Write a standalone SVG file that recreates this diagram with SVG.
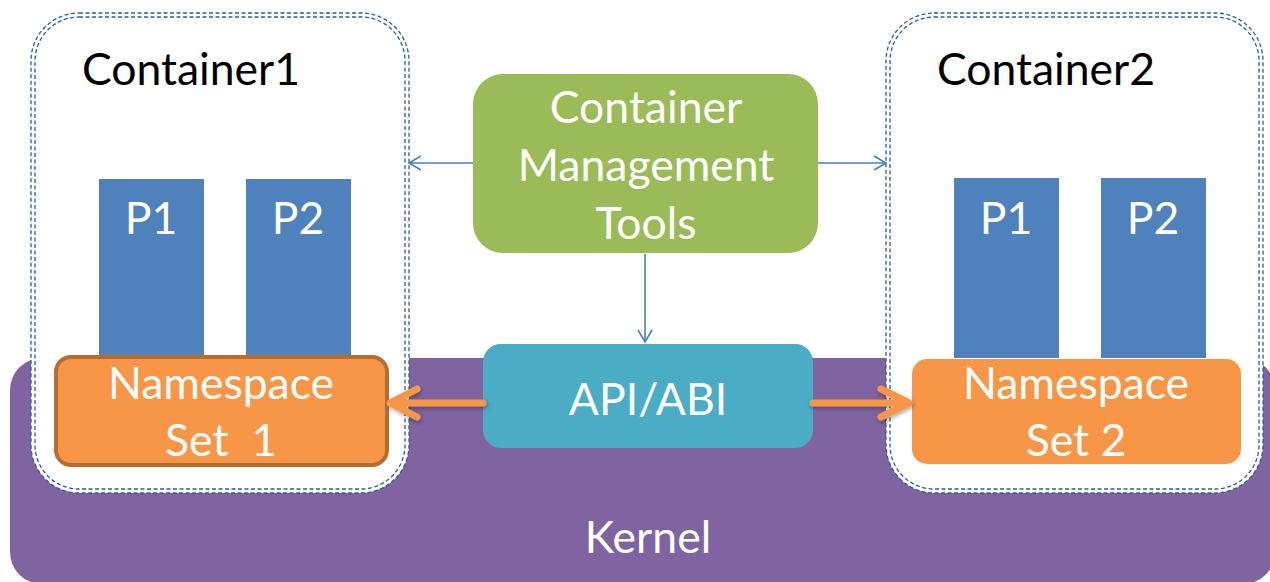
<svg xmlns="http://www.w3.org/2000/svg" width="1270" height="582" viewBox="0 0 1270 582">
<style>
.t{font-family:Lato,"Open Sans","Liberation Sans",sans-serif;font-size:44.5px}
.w{fill:#fff}
.c{text-anchor:middle}
.box{fill:#fff;stroke:#2E5D9B;stroke-width:1.3;stroke-dasharray:4 2.5}
.p{fill:#4F81BD}
.ns{fill:#F79646}
.thin{stroke:#4A7EBB;stroke-width:1.6;fill:none}
.thick{stroke:#F79646;stroke-width:7;fill:none;stroke-linecap:round;stroke-linejoin:round}
</style>
<defs>
<marker id="open" markerWidth="20" markerHeight="20" refX="14" refY="8" orient="auto" markerUnits="userSpaceOnUse">
<path d="M2,1 L14,8 L2,15" fill="none" stroke="#4A7EBB" stroke-width="1.6"/>
</marker>
<filter id="sh" x="-20%" y="-50%" width="140%" height="200%">
<feDropShadow dx="1" dy="2" stdDeviation="2" flood-color="#000" flood-opacity="0.35"/>
</filter>
</defs>
<g id="kernel">
<rect x="10" y="358" width="1265" height="226" rx="32" fill="#8064A2"/>
<text class="t w c" x="648" y="553">Kernel</text>
</g>
<g id="container1">
<rect x="31" y="13" width="378" height="480" rx="48" class="box"/>
<rect x="35" y="17" width="370" height="472" rx="44" fill="none" stroke="#2E5D9B" stroke-width="1.3" stroke-dasharray="4 2.5"/>
<text class="t" x="82" y="85">Container1</text>
</g>
<g id="container2">
<rect x="886" y="13" width="377" height="480" rx="48" class="box"/>
<rect x="890" y="17" width="369" height="472" rx="44" fill="none" stroke="#2E5D9B" stroke-width="1.3" stroke-dasharray="4 2.5"/>
<text class="t" x="937" y="85">Container2</text>
</g>
<g id="c1p1"><rect class="p" x="99" y="179" width="105" height="178"/><text class="t w c" x="151" y="234">P1</text></g>
<g id="c1p2"><rect class="p" x="246" y="179" width="105" height="178"/><text class="t w c" x="298" y="234">P2</text></g>
<g id="c2p1"><rect class="p" x="954" y="178" width="105" height="180"/><text class="t w c" x="1006" y="234">P1</text></g>
<g id="c2p2"><rect class="p" x="1101" y="178" width="105" height="180"/><text class="t w c" x="1153" y="234">P2</text></g>
<g id="ns1">
<rect x="56" y="357" width="331" height="108" rx="15" class="ns" stroke="#B66D31" stroke-width="4"/>
<text class="t w c" x="221" y="399">Namespace</text>
<text class="t w c" x="221" y="456" xml:space="preserve">Set  1</text>
</g>
<g id="ns2">
<rect x="912" y="359" width="329" height="105" rx="15" class="ns"/>
<text class="t w c" x="1076" y="399">Namespace</text>
<text class="t w c" x="1076" y="456">Set 2</text>
</g>
<g id="tools">
<rect x="473" y="74" width="345" height="179" rx="30" fill="#9BBB59"/>
<text class="t w c" x="646" y="123">Container</text>
<text class="t w c" x="646" y="181">Management</text>
<text class="t w c" x="646" y="239">Tools</text>
</g>
<g id="api">
<rect x="483" y="344" width="330" height="104" rx="18" fill="#4BACC6"/>
<text class="t w c" x="648" y="415">API/ABI</text>
</g>
<g id="connectors">
<line class="thin" x1="473" y1="163" x2="409" y2="163" marker-end="url(#open)"/>
<line class="thin" x1="818" y1="163" x2="886" y2="163" marker-end="url(#open)"/>
<line class="thin" x1="645" y1="254" x2="645" y2="342" marker-end="url(#open)"/>
<g filter="url(#sh)">
<path class="thick" d="M483,403 L390,403 M417,389 L390,403 L417,417"/>
<path class="thick" d="M813,403 L909,403 M881,389 L909,403 L881,417"/>
</g>
</g>
</svg>
